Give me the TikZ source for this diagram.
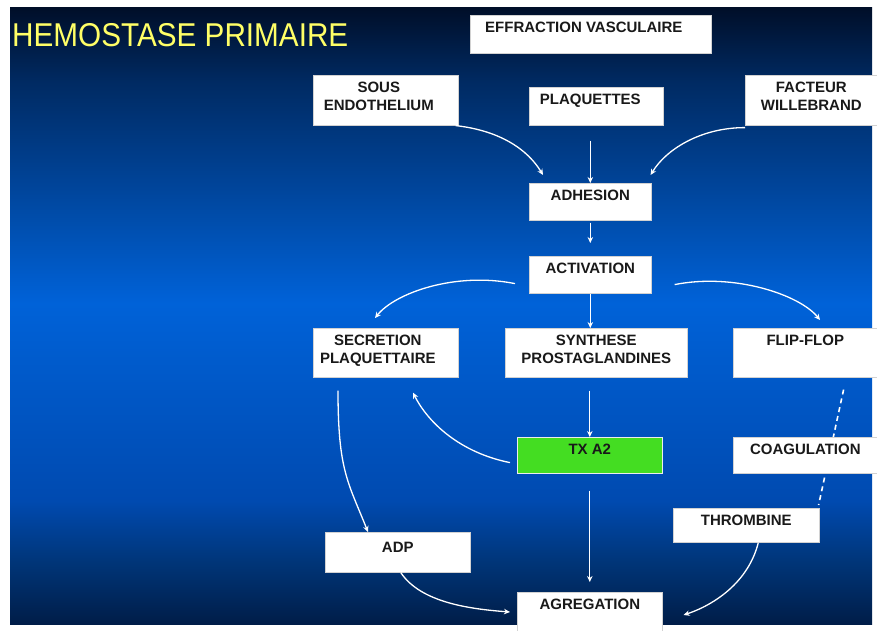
\documentclass[tikz,border=0pt]{standalone}
\usepackage{fontspec}
\setmainfont{Liberation Sans}
\usetikzlibrary{arrows.meta,calc}
\definecolor{titreJaune}{RGB}{255,255,102}
\definecolor{vertTx}{RGB}{68,221,34}
\definecolor{fondA}{RGB}{0,14,40}
\definecolor{fondB}{RGB}{0,42,98}
\definecolor{fondC}{RGB}{0,98,216}
\definecolor{fondD}{RGB}{0,74,176}
\definecolor{fondE}{RGB}{0,53,120}
\definecolor{fondF}{RGB}{0,29,72}
\pgfdeclareverticalshading{fondbleu}{100bp}{color(0bp)=(fondF); color(25bp)=(fondF);
  color(30bp)=(fondE); color(35bp)=(fondD); color(51bp)=(fondC); color(69bp)=(fondB);
  color(75bp)=(fondA); color(100bp)=(fondA)}
\tikzset{
  boite/.style={draw=gray!35, line width=0.6pt, fill=white, anchor=north west, inner sep=0pt},
  texte/.style={anchor=north, inner sep=0pt, yshift=-7pt, align=center, text=black!90,
    font=\bfseries\fontsize{15}{18}\selectfont},
  fleche/.style={white, line width=1.3pt, -{Stealth[length=6pt,width=5.5pt]}},
}
\begin{document}
\begin{tikzpicture}[x=1pt,y=-1pt]
  % Fond
  \useasboundingbox (0,0) rectangle (877,630);
  \fill[white] (0,0) rectangle (877,630);
  \shade[shading=fondbleu] (10,7) rectangle (872,624);

  % Titre
  \node[anchor=base west, inner sep=0pt, text=titreJaune, font=\fontsize{33}{36}\selectfont]
    (titre) at (12,46) {\scalebox{0.9}[1]{HEMOSTASE PRIMAIRE}};

  % Boites
  \node[boite, minimum width=241, minimum height=38, label={[texte, xshift=-7pt]north:EFFRACTION VASCULAIRE}] (effr) at (470,15) {};
  \node[boite, minimum width=145, minimum height=50, label={[texte, xshift=-7pt]north:SOUS\\ENDOTHELIUM}] (sous) at (313,75) {};
  \node[boite, minimum width=134, minimum height=38, label={[texte, xshift=-6pt]north:PLAQUETTES}] (plaq) at (529,87) {};
  \node[boite, minimum width=132, minimum height=50, label={[texte]north:FACTEUR\\WILLEBRAND}] (facteur) at (745,75) {};
  \node[boite, minimum width=122, minimum height=37, label={[texte]north:ADHESION}] (adh) at (529,183) {};
  \node[boite, minimum width=122, minimum height=37, label={[texte]north:ACTIVATION}] (activ) at (529,256) {};
  \node[boite, minimum width=145, minimum height=49, label={[texte, xshift=-8pt]north:SECRETION\\PLAQUETTAIRE}] (secr) at (313,328) {};
  \node[boite, minimum width=182, minimum height=49, label={[texte]north:SYNTHESE\\PROSTAGLANDINES}] (synth) at (505,328) {};
  \node[boite, minimum width=144, minimum height=49, label={[texte]north:FLIP-FLOP}] (flip) at (733,328) {};
  \node[boite, fill=vertTx, draw=white!85!gray, minimum width=145, minimum height=36, label={[texte]north:TX A2}] (txa) at (517,437) {};
  \node[boite, minimum width=146, minimum height=34, label={[texte]north:THROMBINE}] (thromb) at (673,508) {};
  \node[boite, minimum width=145, minimum height=40, label={[texte, yshift=-3pt]north:ADP}] (adp) at (325,532) {};
  \node[boite, minimum width=145, minimum height=40, label={[texte]north:AGREGATION}] (agreg) at (517,592) {};

  % Fleches
  \draw[fleche] ($(sous.south east)+(-3,0)$) .. controls +(45,5) and +(-15,-25) .. ($(adh.north west)+(14,-8)$);
  \draw[fleche] ($(adh.north |- plaq.south)+(0,15)$) -- (adh.north);
  \draw[fleche] ($(facteur.south west)+(0,2)$) .. controls +(-45,0) and +(15,-25) .. ($(adh.north east)+(-1,-8)$);
  \draw[fleche] ($(adh.south)+(0,2)$) -- ($(activ.north)+(0,-13)$);
  \draw[fleche] ($(activ.south west)+(-14,-10)$) .. controls +(-60,-12) and +(20,-25) .. ($(secr.north west)+(62,-10)$);
  \draw[fleche] (activ.south) -- (activ.south |- synth.north);
  \draw[fleche] ($(activ.south east)+(23,-9)$) .. controls +(60,-12) and +(-20,-25) .. ($(flip.north west)+(87,-8)$);
  \draw[fleche] ($(secr.south west)+(25,13)$) .. controls +(0,80) and +(-20,-50) .. ($(adp.north west)+(43,0)$);
  \draw[fleche] ($(txa.north |- synth.south)+(0,13)$) -- (txa.north);
  \draw[fleche] ($(txa.south west)+(-7,-11)$) .. controls +(-50,-10) and +(15,30) .. ($(secr.south west)+(100,15)$);
  \draw[fleche] ($(txa.south)+(0,17)$) -- ($(agreg.north)+(0,-10)$);
  \draw[white, line width=1.6pt, dash pattern=on 5pt off 4pt] ($(flip.south east)+(-34,12)$) -- ($(thromb.north east)+(-1,-3)$);
  \draw[fleche] ($(thromb.south)+(12,0)$) .. controls +(-10,40) and +(30,-10) .. ($(agreg.north east)+(21,23)$);
  \draw[fleche] ($(adp.south)+(3,0)$) .. controls +(20,30) and +(-40,-3) .. ($(agreg.north west)+(-7,20)$);

  % Coagulation par-dessus le pointille
  \node[boite, minimum width=144, minimum height=36, label={[texte]north:COAGULATION}] (coag) at (733,437) {};
\end{tikzpicture}
\end{document}
